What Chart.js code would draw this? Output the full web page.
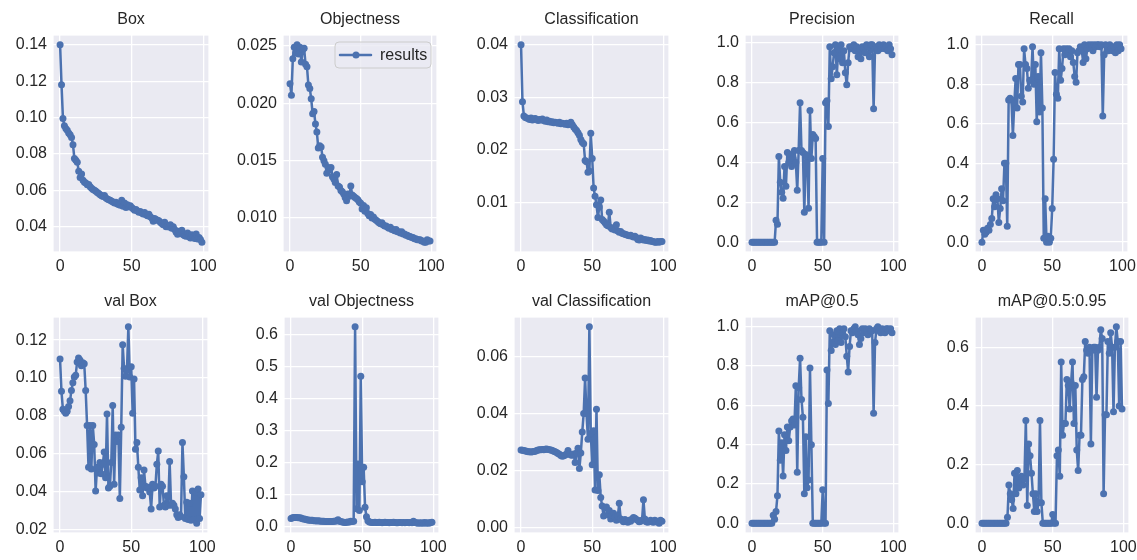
<!DOCTYPE html>
<html>
<head>
<meta charset="utf-8">
<script src="https://cdn.jsdelivr.net/npm/chart.js@4/dist/chart.umd.min.js"></script>
<style>
  html, body { margin: 0; padding: 0; background: #fff; }
  #wrap { position: relative; width: 1137px; height: 560px; overflow: hidden; }
  #wrap canvas { position: absolute; }
</style>
</head>
<body>
<div id="wrap"></div>
<script>
// training results, one value per epoch (0..99)
const boxLoss = [
  0.1400, 0.1180, 0.0995, 0.0955, 0.0940, 0.0930, 0.0915, 0.0905, 0.0890, 0.0850,
  0.0775, 0.0765, 0.0755, 0.0705, 0.0670, 0.0690, 0.0655, 0.0645, 0.0640, 0.0630,
  0.0632, 0.0620, 0.0612, 0.0605, 0.0600, 0.0595, 0.0588, 0.0582, 0.0576, 0.0570,
  0.0566, 0.0572, 0.0558, 0.0552, 0.0548, 0.0545, 0.0540, 0.0536, 0.0530, 0.0534,
  0.0525, 0.0522, 0.0518, 0.0545, 0.0512, 0.0530, 0.0505, 0.0520, 0.0510, 0.0515,
  0.0505, 0.0498, 0.0490, 0.0494, 0.0486, 0.0480, 0.0484, 0.0475, 0.0470, 0.0478,
  0.0465, 0.0460, 0.0468, 0.0455, 0.0448, 0.0430, 0.0445, 0.0440, 0.0436, 0.0432,
  0.0425, 0.0418, 0.0410, 0.0425, 0.0400, 0.0405, 0.0398, 0.0410, 0.0392, 0.0400,
  0.0385, 0.0370, 0.0358, 0.0375, 0.0362, 0.0380, 0.0355, 0.0350, 0.0348, 0.0365,
  0.0345, 0.0338, 0.0355, 0.0342, 0.0335, 0.0360, 0.0332, 0.0340, 0.0330, 0.0315,
]
const objLoss = [
  0.0217, 0.0207, 0.0239, 0.0249, 0.0244, 0.0251, 0.0243, 0.0249, 0.0236, 0.0247,
  0.0248, 0.0234, 0.0232, 0.0216, 0.0213, 0.0204, 0.0191, 0.0193, 0.0182, 0.0175,
  0.0161, 0.0163, 0.0162, 0.0153, 0.0150, 0.0147, 0.0139, 0.0144, 0.0142, 0.0144,
  0.0136, 0.0134, 0.0131, 0.0138, 0.0128, 0.0127, 0.0124, 0.0123, 0.0121, 0.0118,
  0.0115, 0.0121, 0.0119, 0.0128, 0.0120, 0.0119, 0.0118, 0.0117, 0.0116, 0.0114,
  0.0113, 0.0108, 0.0111, 0.0106, 0.0109, 0.0104, 0.0102, 0.0103, 0.0100, 0.0101,
  0.0099, 0.0098, 0.0097, 0.0096, 0.0095, 0.0096, 0.0094, 0.0093, 0.0093, 0.0092,
  0.0091, 0.0092, 0.0090, 0.0090, 0.0089, 0.0090, 0.0088, 0.0088, 0.0087, 0.0088,
  0.0086, 0.0086, 0.0085, 0.0085, 0.0084, 0.0084, 0.0083, 0.0083, 0.0082, 0.0082,
  0.0081, 0.0081, 0.0081, 0.0080, 0.0080, 0.0079, 0.0079, 0.0081, 0.0080, 0.0080,
]
const clsLoss = [
  0.0400, 0.0292, 0.0265, 0.0262, 0.0261, 0.0260, 0.0258, 0.0261, 0.0257, 0.0259,
  0.0260, 0.0258, 0.0256, 0.0258, 0.0257, 0.0259, 0.0256, 0.0255, 0.0257, 0.0254,
  0.0255, 0.0253, 0.0254, 0.0252, 0.0253, 0.0252, 0.0251, 0.0253, 0.0250, 0.0251,
  0.0250, 0.0249, 0.0251, 0.0248, 0.0250, 0.0253, 0.0248, 0.0244, 0.0240, 0.0237,
  0.0233, 0.0228, 0.0220, 0.0215, 0.0212, 0.0180, 0.0178, 0.0158, 0.0160, 0.0232,
  0.0184, 0.0128, 0.0112, 0.0096, 0.0072, 0.0092, 0.0105, 0.0068, 0.0065, 0.0062,
  0.0058, 0.0056, 0.0082, 0.0053, 0.0050, 0.0052, 0.0048, 0.0058, 0.0046, 0.0044,
  0.0045, 0.0042, 0.0041, 0.0040, 0.0039, 0.0038, 0.0037, 0.0038, 0.0036, 0.0035,
  0.0036, 0.0034, 0.0030, 0.0029, 0.0033, 0.0031, 0.0029, 0.0030, 0.0028, 0.0029,
  0.0027, 0.0028, 0.0026, 0.0026, 0.0025, 0.0025, 0.0026, 0.0025, 0.0026, 0.0026,
]
const precision = [
  0, 0, 0, 0, 0, 0, 0, 0, 0, 0,
  0, 0, 0, 0, 0, 0, 0, 0.11, 0.09, 0.43,
  0.30, 0.25, 0.22, 0.38, 0.28, 0.45, 0.40, 0.44, 0.38, 0.42,
  0.46, 0.40, 0.26, 0.46, 0.70, 0.46, 0.45, 0.15, 0.44, 0.43,
  0.17, 0.66, 0.42, 0.54, 0.53, 0.52, 0.00, 0.00, 0.00, 0.00,
  0.42, 0.00, 0.70, 0.71, 0.58, 0.98, 0.82, 0.88, 0.95, 0.99,
  0.84, 0.97, 0.92, 0.99, 0.90, 0.96, 0.85, 0.79, 0.90, 0.98,
  0.97, 0.98, 0.99, 0.96, 0.98, 0.93, 0.97, 0.92, 0.98, 0.97,
  0.95, 0.99, 0.98, 0.93, 0.99, 0.99, 0.67, 0.97, 0.98, 0.96,
  0.99, 0.97, 0.98, 0.99, 0.97, 0.98, 0.96, 0.99, 0.97, 0.94,
]
const recall = [
  0.00, 0.06, 0.04, 0.05, 0.07, 0.06, 0.09, 0.12, 0.22, 0.18,
  0.24, 0.22, 0.10, 0.17, 0.27, 0.21, 0.40, 0.40, 0.08, 0.72,
  0.73, 0.72, 0.54, 0.70, 0.83, 0.68, 0.90, 0.90, 0.74, 0.71,
  0.98, 0.90, 0.88, 0.78, 0.82, 0.82, 0.99, 0.80, 0.90, 0.61,
  0.84, 0.66, 0.96, 0.68, 0.02, 0.22, 0.00, 0.03, 0.00, 0.02,
  0.17, 0.42, 0.86, 0.75, 0.73, 0.98, 0.82, 0.88, 0.98, 0.95,
  0.98, 0.96, 0.98, 0.94, 0.97, 0.91, 0.84, 0.81, 0.96, 0.97,
  0.99, 0.98, 0.91, 1.00, 0.93, 0.98, 1.00, 0.99, 1.00, 0.97,
  1.00, 0.99, 1.00, 1.00, 0.99, 1.00, 0.64, 0.95, 1.00, 0.99,
  0.97, 1.00, 0.98, 0.97, 0.99, 0.96, 1.00, 0.97, 1.00, 0.98,
]
const valBoxLoss = [
  0.1100, 0.0930, 0.0835, 0.0825, 0.0815, 0.0825, 0.0850, 0.0880, 0.0935, 0.0975,
  0.1005, 0.1015, 0.1085, 0.1105, 0.1095, 0.1065, 0.1080, 0.1075, 0.0935, 0.0750,
  0.0530, 0.0750, 0.0520, 0.0750, 0.0650, 0.0405, 0.0530, 0.0500, 0.0555, 0.0495,
  0.0545, 0.0610, 0.0475, 0.0810, 0.0420, 0.0430, 0.0555, 0.0855, 0.0440, 0.0700,
  0.0665, 0.0700, 0.0365, 0.0740, 0.1175, 0.1050, 0.1010, 0.1040, 0.1270, 0.1005,
  0.1060, 0.0815, 0.0995, 0.0625, 0.0660, 0.0530, 0.0410, 0.0475, 0.0380, 0.0515,
  0.0430, 0.0420, 0.0425, 0.0400, 0.0310, 0.0440, 0.0420, 0.0430, 0.0545, 0.0615,
  0.0320, 0.0440, 0.0430, 0.0330, 0.0320, 0.0380, 0.0330, 0.0560, 0.0330, 0.0340,
  0.0330, 0.0310, 0.0280, 0.0265, 0.0280, 0.0270, 0.0660, 0.0480, 0.0260, 0.0345,
  0.0255, 0.0340, 0.0250, 0.0405, 0.0255, 0.0400, 0.0235, 0.0415, 0.0260, 0.0385,
]
const valObjLoss = [
  0.025, 0.027, 0.028, 0.028, 0.028, 0.027, 0.027, 0.026, 0.024, 0.023,
  0.022, 0.021, 0.020, 0.019, 0.019, 0.019, 0.018, 0.018, 0.017, 0.018,
  0.017, 0.016, 0.016, 0.016, 0.015, 0.015, 0.015, 0.015, 0.015, 0.015,
  0.016, 0.016, 0.018, 0.021, 0.016, 0.015, 0.014, 0.013, 0.012, 0.013,
  0.014, 0.014, 0.016, 0.015, 0.016, 0.625, 0.055, 0.195, 0.050, 0.470,
  0.140, 0.185, 0.060, 0.030, 0.018, 0.014, 0.013, 0.012, 0.012, 0.013,
  0.012, 0.012, 0.013, 0.012, 0.011, 0.012, 0.013, 0.012, 0.012, 0.011,
  0.012, 0.012, 0.013, 0.012, 0.011, 0.011, 0.012, 0.012, 0.011, 0.012,
  0.011, 0.012, 0.012, 0.011, 0.012, 0.011, 0.016, 0.012, 0.011, 0.010,
  0.011, 0.010, 0.011, 0.010, 0.012, 0.010, 0.011, 0.010, 0.012, 0.013,
]
const valClsLoss = [
  0.0272, 0.0271, 0.0270, 0.0269, 0.0268, 0.0266, 0.0266, 0.0265, 0.0266, 0.0267,
  0.0268, 0.0270, 0.0272, 0.0273, 0.0273, 0.0274, 0.0273, 0.0275, 0.0276, 0.0274,
  0.0273, 0.0272, 0.0270, 0.0268, 0.0266, 0.0263, 0.0260, 0.0257, 0.0253, 0.0250,
  0.0252, 0.0255, 0.0258, 0.0270, 0.0258, 0.0255, 0.0254, 0.0258, 0.0228, 0.0262,
  0.0278, 0.0207, 0.0262, 0.0335, 0.0400, 0.0525, 0.0400, 0.0310, 0.0705, 0.0330,
  0.0220, 0.0340, 0.0132, 0.0415, 0.0130, 0.0185, 0.0105, 0.0075, 0.0040, 0.0068,
  0.0072, 0.0045, 0.0060, 0.0030, 0.0042, 0.0050, 0.0035, 0.0025, 0.0040, 0.0085,
  0.0030, 0.0025, 0.0020, 0.0028, 0.0022, 0.0018, 0.0025, 0.0022, 0.0030, 0.0035,
  0.0032, 0.0028, 0.0025, 0.0020, 0.0022, 0.0025, 0.0097, 0.0030, 0.0020, 0.0018,
  0.0022, 0.0025, 0.0020, 0.0018, 0.0025, 0.0020, 0.0022, 0.0015, 0.0025, 0.0022,
]
const map50 = [
  0, 0, 0, 0, 0, 0, 0, 0, 0, 0,
  0, 0, 0, 0, 0, 0.04, 0.02, 0.06, 0.14, 0.47,
  0.32, 0.41, 0.24, 0.45, 0.37, 0.49, 0.42, 0.49, 0.52, 0.53,
  0.50, 0.70, 0.26, 0.69, 0.84, 0.63, 0.54, 0.15, 0.44, 0.18,
  0.22, 0.79, 0.40, 0.00, 0.00, 0.00, 0.00, 0.00, 0.00, 0.00,
  0.17, 0.00, 0.00, 0.78, 0.61, 0.98, 0.88, 0.92, 0.96, 0.91,
  0.98, 0.93, 0.99, 0.92, 0.97, 0.99, 0.95, 0.85, 0.77, 0.90,
  0.98, 0.97, 0.99, 1.00, 0.98, 0.96, 0.91, 0.94, 0.99, 0.97,
  0.99, 0.98, 0.96, 0.99, 0.98, 0.98, 0.56, 0.92, 0.99, 1.00,
  0.98, 0.97, 0.99, 0.98, 0.97, 0.99, 0.99, 0.98, 0.99, 0.97,
]
const map5095 = [
  0, 0, 0, 0, 0, 0, 0, 0, 0, 0,
  0, 0, 0, 0, 0, 0, 0, 0, 0.02, 0.13,
  0.10, 0.08, 0.05, 0.17, 0.10, 0.18, 0.12, 0.14, 0.16, 0.13,
  0.15, 0.35, 0.06, 0.27, 0.23, 0.17, 0.10, 0.04, 0.10, 0.04,
  0.07, 0.35, 0.07, 0.00, 0.00, 0.00, 0.00, 0.00, 0.00, 0.00,
  0.03, 0.00, 0.00, 0.23, 0.25, 0.16, 0.55, 0.30, 0.34, 0.34,
  0.49, 0.47, 0.39, 0.48, 0.55, 0.34, 0.47, 0.25, 0.18, 0.30,
  0.30, 0.49, 0.50, 0.62, 0.59, 0.58, 0.60, 0.27, 0.59, 0.60,
  0.60, 0.43, 0.59, 0.60, 0.66, 0.63, 0.10, 0.37, 0.37, 0.62,
  0.58, 0.65, 0.60, 0.38, 0.60, 0.67, 0.62, 0.40, 0.62, 0.39,
]

const titles = ['Box', 'Objectness', 'Classification', 'Precision', 'Recall',
  'val Box', 'val Objectness', 'val Classification', 'mAP@0.5', 'mAP@0.5:0.95']
const series = [boxLoss, objLoss, clsLoss, precision, recall,
  valBoxLoss, valObjLoss, valClsLoss, map50, map5095]
const yTicks = [
  [0.04, 0.06, 0.08, 0.10, 0.12, 0.14],
  [0.010, 0.015, 0.020, 0.025],
  [0.01, 0.02, 0.03, 0.04],
  [0, 0.2, 0.4, 0.6, 0.8, 1.0],
  [0, 0.2, 0.4, 0.6, 0.8, 1.0],
  [0.02, 0.04, 0.06, 0.08, 0.10, 0.12],
  [0, 0.1, 0.2, 0.3, 0.4, 0.5, 0.6],
  [0, 0.02, 0.04, 0.06],
  [0, 0.2, 0.4, 0.6, 0.8, 1.0],
  [0, 0.2, 0.4, 0.6],
]
const yDecimals = [2, 3, 2, 1, 1, 2, 1, 2, 1, 1]
const xTicks = [0, 50, 100]
const legendLabel = 'results'

// layout: plot-area edges in page pixels
const plotX = [
  [53, 209], [283, 437], [514, 669], [745, 899], [975, 1128],
  [53, 208], [284, 439], [514, 669], [745, 899], [975, 1129],
]
const rows = [
  { top: 0, titleTop: 10, titleBottom: 5, axisH: 28 },
  { top: 280, titleTop: 12, titleBottom: 5, axisH: 27 },
]
const Y_AXIS_W = 52
const RIGHT_PAD = 16
const CANVAS_H = 280

const LINE_COLOR = '#4C72B0'
const BG = '#EAEAF2'
const TEXT = '#262626'
const FONT = '"Liberation Sans", Arial, sans-serif'

const plotBackground = {
  id: 'plotBackground',
  beforeDraw(chart) {
    const { ctx, chartArea: a } = chart
    ctx.save()
    ctx.fillStyle = BG
    ctx.fillRect(a.left, a.top, a.right - a.left, a.bottom - a.top)
    ctx.restore()
  },
  afterDraw(chart) {
    const { ctx, chartArea: a } = chart
    ctx.save()
    ctx.strokeStyle = '#ffffff'
    ctx.lineWidth = 1.25
    ctx.strokeRect(a.left, a.top, a.right - a.left, a.bottom - a.top)
    ctx.restore()
  },
}

// matplotlib style legend box in the top right corner
const cornerLegend = {
  id: 'cornerLegend',
  afterDraw(chart) {
    if (!chart.options.plugins.cornerLegend?.show) return
    const { ctx, chartArea: a } = chart
    const w = 96, h = 26
    const x = a.right - 6 - w
    const y = a.top + 7
    ctx.save()
    ctx.beginPath()
    ctx.roundRect(x, y, w, h, 4)
    ctx.fillStyle = 'rgba(234,234,242,0.8)'
    ctx.fill()
    ctx.strokeStyle = '#cccccc'
    ctx.lineWidth = 1
    ctx.stroke()
    const cy = y + h / 2
    ctx.strokeStyle = LINE_COLOR
    ctx.lineWidth = 2.5
    ctx.lineCap = 'round'
    ctx.beginPath()
    ctx.moveTo(x + 5, cy)
    ctx.lineTo(x + 36, cy)
    ctx.stroke()
    ctx.fillStyle = LINE_COLOR
    ctx.beginPath()
    ctx.arc(x + 21, cy, 3.5, 0, Math.PI * 2)
    ctx.fill()
    ctx.fillStyle = TEXT
    ctx.font = '16px ' + FONT
    ctx.textBaseline = 'middle'
    ctx.fillText(legendLabel, x + 45, cy + 1)
    ctx.restore()
  },
}

function yRange(values) {
  const lo = Math.min(...values)
  const hi = Math.max(...values)
  const pad = (hi - lo) * 0.05
  return [lo - pad, hi + pad]
}

function createPanel(index) {
  const row = rows[index < 5 ? 0 : 1]
  const [left, right] = plotX[index]
  const canvas = document.createElement('canvas')
  const width = Y_AXIS_W + (right - left) + RIGHT_PAD
  canvas.width = width
  canvas.height = CANVAS_H
  canvas.style.left = (left - Y_AXIS_W) + 'px'
  canvas.style.top = row.top + 'px'
  canvas.style.width = width + 'px'
  canvas.style.height = CANVAS_H + 'px'
  document.getElementById('wrap').appendChild(canvas)

  const values = series[index]
  const [yMin, yMax] = yRange(values)
  const decimals = yDecimals[index]

  return new Chart(canvas, {
    type: 'line',
    data: {
      datasets: [{
        label: legendLabel,
        data: values.map((v, epoch) => ({ x: epoch, y: v })),
        borderColor: LINE_COLOR,
        backgroundColor: LINE_COLOR,
        borderWidth: 2.5,
        borderJoinStyle: 'round',
        borderCapStyle: 'round',
        pointRadius: 3.5,
        pointBorderWidth: 0,
        pointBackgroundColor: LINE_COLOR,
        tension: 0,
        clip: false,
      }]
    },
    options: {
      responsive: false,
      animation: false,
      devicePixelRatio: 1,
      layout: { padding: { left: 0, right: RIGHT_PAD, top: 0, bottom: 0 } },
      plugins: {
        legend: { display: false },
        tooltip: { enabled: false },
        cornerLegend: { show: index === 1 },
        title: {
          display: true,
          fullSize: false,
          text: titles[index],
          color: TEXT,
          font: { family: FONT, size: 16, weight: 'normal', lineHeight: 1.25 },
          padding: { top: row.titleTop, bottom: row.titleBottom },
        },
      },
      scales: {
        x: {
          type: 'linear',
          min: -4.95,
          max: 103.95,
          afterBuildTicks: scale => { scale.ticks = xTicks.map(v => ({ value: v })) },
          afterFit: scale => { scale.height = row.axisH },
          grid: { color: '#ffffff', lineWidth: 1.3, drawTicks: false },
          border: { display: false },
          ticks: {
            color: TEXT,
            padding: 5,
            maxRotation: 0,
            font: { family: FONT, size: 16 },
            callback: v => String(v),
          },
        },
        y: {
          type: 'linear',
          min: yMin,
          max: yMax,
          afterBuildTicks: scale => { scale.ticks = yTicks[index].map(v => ({ value: v })) },
          afterFit: scale => { scale.width = Y_AXIS_W },
          grid: { color: '#ffffff', lineWidth: 1.3, drawTicks: false },
          border: { display: false },
          ticks: {
            color: TEXT,
            padding: 6,
            font: { family: FONT, size: 16 },
            callback: v => Number(v).toFixed(decimals),
          },
        },
      },
    },
    plugins: [plotBackground, cornerLegend],
  })
}

titles.forEach((_, i) => createPanel(i))
</script>
</body>
</html>
